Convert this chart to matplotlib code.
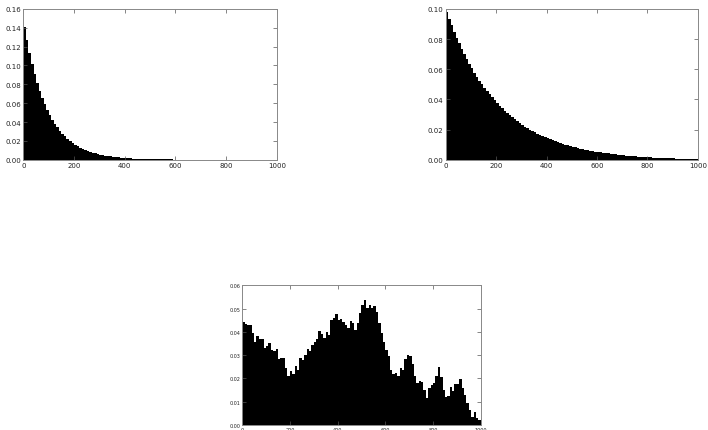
import numpy as np
import matplotlib
matplotlib.use("Agg")
import matplotlib.pyplot as plt

# --- data (one value per 10-unit bin) ---
bin_width = 10
bin_edges = np.arange(0, 1000 + bin_width, bin_width)

# top-left: fast decay
fast_decay = [
    0.1410, 0.1265, 0.1135, 0.1018, 0.0913, 0.0819, 0.0734, 0.0659, 0.0591, 0.0530,
    0.0475, 0.0426, 0.0383, 0.0343, 0.0308, 0.0276, 0.0248, 0.0222, 0.0199, 0.0179,
    0.0160, 0.0144, 0.0129, 0.0116, 0.0104, 0.0093, 0.0084, 0.0075, 0.0067, 0.0060,
    0.0054, 0.0049, 0.0044, 0.0039, 0.0035, 0.0031, 0.0028, 0.0025, 0.0023, 0.0020,
    0.0018, 0.0016, 0.0015, 0.0013, 0.0012, 0.0011, 0.0010, 0.0009, 0.0008, 0.0007,
    0.0006, 0.0006, 0.0005, 0.0004, 0.0004, 0.0004, 0.0003, 0.0003, 0.0003, 0.0002,
    0.0002, 0.0002, 0.0002, 0.0002, 0.0002, 0.0002, 0.0002, 0.0, 0.0, 0.0,
    0.0, 0.0, 0.0, 0.0, 0.0, 0.0, 0.0, 0.0, 0.0, 0.0,
    0.0, 0.0, 0.0, 0.0, 0.0, 0.0, 0.0, 0.0, 0.0, 0.0,
    0.0, 0.0, 0.0, 0.0, 0.0, 0.0, 0.0, 0.0, 0.0, 0.0,
]

# top-right: slow decay
slow_decay = [
    0.0980, 0.0934, 0.0891, 0.0849, 0.0809, 0.0771, 0.0735, 0.0701, 0.0668, 0.0637,
    0.0607, 0.0578, 0.0551, 0.0525, 0.0501, 0.0477, 0.0455, 0.0433, 0.0413, 0.0394,
    0.0375, 0.0357, 0.0341, 0.0324, 0.0309, 0.0295, 0.0281, 0.0267, 0.0255, 0.0243,
    0.0231, 0.0220, 0.0210, 0.0200, 0.0190, 0.0181, 0.0172, 0.0164, 0.0156, 0.0149,
    0.0142, 0.0135, 0.0128, 0.0122, 0.0116, 0.0111, 0.0105, 0.0100, 0.0095, 0.0091,
    0.0086, 0.0082, 0.0078, 0.0074, 0.0070, 0.0067, 0.0063, 0.0060, 0.0057, 0.0054,
    0.0052, 0.0049, 0.0046, 0.0044, 0.0042, 0.0040, 0.0038, 0.0036, 0.0034, 0.0032,
    0.0030, 0.0028, 0.0027, 0.0025, 0.0024, 0.0023, 0.0021, 0.0020, 0.0019, 0.0018,
    0.0017, 0.0016, 0.0015, 0.0014, 0.0013, 0.0012, 0.0011, 0.0011, 0.0010, 0.0009,
    0.0009, 0.0008, 0.0007, 0.0007, 0.0006, 0.0006, 0.0005, 0.0005, 0.0004, 0.0004,
]

# bottom: noisy walk
walk = [
    0.0442, 0.0435, 0.0430, 0.0432, 0.0395, 0.0355, 0.0382, 0.0368, 0.0372, 0.0330,
    0.0340, 0.0352, 0.0322, 0.0318, 0.0325, 0.0285, 0.0290, 0.0288, 0.0245, 0.0212,
    0.0232, 0.0220, 0.0252, 0.0235, 0.0290, 0.0280, 0.0300, 0.0328, 0.0320, 0.0342,
    0.0355, 0.0372, 0.0405, 0.0392, 0.0375, 0.0398, 0.0385, 0.0452, 0.0460, 0.0478,
    0.0452, 0.0458, 0.0445, 0.0430, 0.0418, 0.0448, 0.0440, 0.0410, 0.0440, 0.0482,
    0.0518, 0.0538, 0.0502, 0.0518, 0.0505, 0.0512, 0.0485, 0.0440, 0.0395, 0.0355,
    0.0322, 0.0295, 0.0235, 0.0218, 0.0222, 0.0212, 0.0245, 0.0235, 0.0285, 0.0300,
    0.0295, 0.0262, 0.0210, 0.0182, 0.0188, 0.0185, 0.0152, 0.0115, 0.0160, 0.0172,
    0.0182, 0.0212, 0.0250, 0.0205, 0.0150, 0.0122, 0.0125, 0.0165, 0.0148, 0.0178,
    0.0175, 0.0198, 0.0160, 0.0130, 0.0095, 0.0065, 0.0035, 0.0058, 0.0030, 0.0022,
]

x_ticks = [0, 200, 400, 600, 800, 1000]


def draw(ax, values, ymax, ystep, fsize):
    # filled histogram, no gaps between bins
    ax.stairs(values, bin_edges, fill=True, color='black', linewidth=0)
    ax.set_xlim(0, 1000)
    ax.set_ylim(0, ymax)
    ax.set_xticks(x_ticks)
    ax.set_yticks(np.arange(0, ymax + ystep / 2, ystep))
    ax.yaxis.set_major_formatter(matplotlib.ticker.FormatStrFormatter('%.2f'))
    ax.tick_params(direction='in', top=True, right=True, labelsize=fsize,
                   length=3, width=0.5, pad=1.5, colors='#555555',
                   labelcolor='#222222')
    for s in ax.spines.values():
        s.set_linewidth(0.7)
        s.set_color('#888888')


fig = plt.figure(figsize=(7.08, 4.31), dpi=100)

ax1 = fig.add_axes([0.033, 0.627, 0.358, 0.350])
draw(ax1, fast_decay, 0.16, 0.02, 5)

ax2 = fig.add_axes([0.6295, 0.627, 0.356, 0.350])
draw(ax2, slow_decay, 0.10, 0.02, 5)

ax3 = fig.add_axes([0.342, 0.0116, 0.337, 0.3237])
draw(ax3, walk, 0.06, 0.01, 3.5)

plt.savefig('out.png', dpi=100)
